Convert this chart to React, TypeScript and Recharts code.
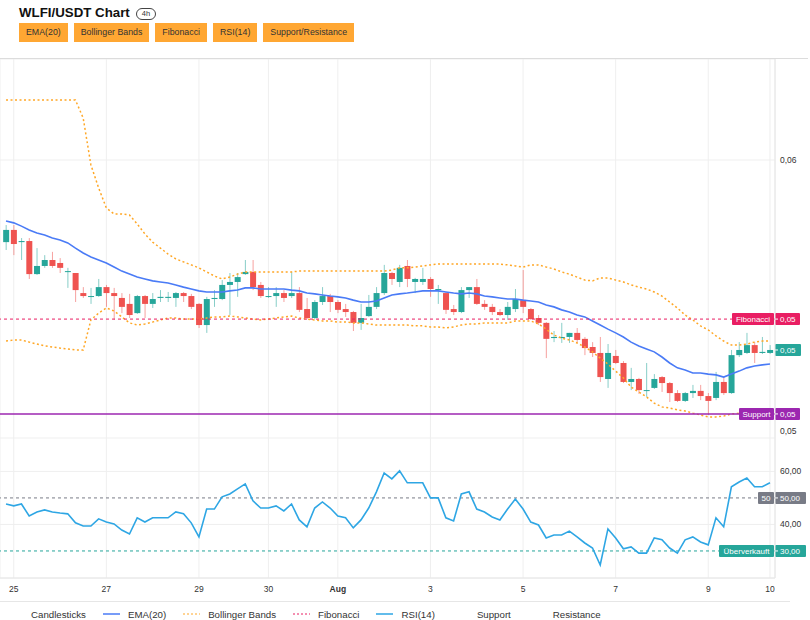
import { ComposedChart, Bar, Line, XAxis, YAxis, CartesianGrid, ReferenceLine } from 'recharts';

// 4h candles (WLFI/USDT)
const opens = [
  0.05697, 0.05742, 0.05697, 0.05701, 0.05579, 0.05609, 0.05631, 0.0562, 0.05587, 0.05583,
  0.05509, 0.05495, 0.05498, 0.05531, 0.05509, 0.05491, 0.05469, 0.05435, 0.05498, 0.05469,
  0.05491, 0.05491, 0.05491, 0.05509, 0.05498, 0.05469, 0.05391, 0.05487, 0.05487, 0.05539,
  0.0555, 0.05579, 0.05587, 0.05539, 0.05495, 0.05498, 0.05509, 0.05498, 0.05509, 0.0545,
  0.05417, 0.05476, 0.05498, 0.05476, 0.0545, 0.05439, 0.05399, 0.05424, 0.05458, 0.05509,
  0.05583, 0.0555, 0.05609, 0.0555, 0.0555, 0.05561, 0.0552, 0.05509, 0.0545, 0.05439,
  0.0552, 0.05531, 0.05469, 0.05458, 0.05439, 0.05428, 0.0545, 0.05483, 0.0545, 0.05417,
  0.05399, 0.05343, 0.05343, 0.05347, 0.05362, 0.0534, 0.0531, 0.05288, 0.05192, 0.05277,
  0.05251, 0.05181, 0.05192, 0.05148, 0.05159, 0.05199, 0.05177, 0.0514, 0.05111, 0.0514,
  0.05148, 0.05129, 0.05122, 0.05181, 0.0514, 0.0528, 0.05288, 0.05317, 0.05288, 0.05288,
];
const highs = [
  0.0576, 0.0576, 0.05712, 0.05712, 0.05675, 0.05649, 0.05661, 0.05638, 0.05602, 0.05583,
  0.05531, 0.05528, 0.05561, 0.05539, 0.05528, 0.05509, 0.05506, 0.05502, 0.05502, 0.05509,
  0.0552, 0.05513, 0.05513, 0.05513, 0.05506, 0.05472, 0.05495, 0.0552, 0.05557, 0.05583,
  0.05583, 0.05631, 0.05631, 0.0555, 0.05531, 0.05531, 0.0552, 0.05587, 0.05531, 0.05491,
  0.05483, 0.05531, 0.05506, 0.05483, 0.05469, 0.05443, 0.05469, 0.05502, 0.05531, 0.05613,
  0.05587, 0.05613, 0.05631, 0.05565, 0.05602, 0.05568, 0.05539, 0.05513, 0.05465, 0.05531,
  0.05531, 0.05561, 0.05483, 0.05469, 0.0545, 0.05476, 0.05524, 0.05594, 0.05454, 0.05428,
  0.05402, 0.05369, 0.05399, 0.05362, 0.0538, 0.05347, 0.05328, 0.05347, 0.05321, 0.05299,
  0.05258, 0.05233, 0.05196, 0.05251, 0.0521, 0.05203, 0.05181, 0.05151, 0.05144, 0.0517,
  0.0517, 0.0514, 0.05218, 0.05199, 0.05299, 0.05328, 0.05362, 0.05328, 0.05347, 0.05317,
];
const lows = [
  0.05668, 0.05649, 0.05631, 0.05561, 0.05576, 0.05602, 0.05602, 0.05583, 0.05528, 0.05476,
  0.05491, 0.05469, 0.05495, 0.05458, 0.0541, 0.05435, 0.05417, 0.05432, 0.05417, 0.05454,
  0.05476, 0.05476, 0.05458, 0.05476, 0.0545, 0.0538, 0.05362, 0.05458, 0.05483, 0.05428,
  0.05495, 0.05576, 0.0552, 0.05491, 0.05491, 0.05458, 0.05476, 0.05491, 0.05439, 0.05413,
  0.05413, 0.05465, 0.05439, 0.05435, 0.05421, 0.05369, 0.05373, 0.05421, 0.0545, 0.05502,
  0.05539, 0.05531, 0.05531, 0.05509, 0.05539, 0.05495, 0.05469, 0.05432, 0.05428, 0.05435,
  0.05491, 0.05465, 0.05447, 0.05428, 0.05424, 0.0541, 0.05439, 0.05435, 0.0541, 0.05391,
  0.05269, 0.05328, 0.05325, 0.05325, 0.05325, 0.0528, 0.05273, 0.05181, 0.05159, 0.05247,
  0.05177, 0.05151, 0.05137, 0.05126, 0.05155, 0.05144, 0.05107, 0.05107, 0.05107, 0.05122,
  0.05114, 0.05059, 0.05114, 0.05133, 0.05137, 0.05273, 0.05284, 0.05251, 0.05284, 0.05284,
];
const closes = [
  0.05742, 0.0569, 0.05701, 0.05579, 0.05609, 0.05631, 0.05609, 0.05602, 0.0559, 0.0552,
  0.05498, 0.05498, 0.05531, 0.05509, 0.05498, 0.05458, 0.05428, 0.05498, 0.05469, 0.05487,
  0.05495, 0.05495, 0.05509, 0.05498, 0.05458, 0.05391, 0.05487, 0.05491, 0.05539, 0.0555,
  0.05568, 0.05587, 0.05531, 0.05498, 0.05498, 0.05509, 0.05491, 0.05509, 0.05447, 0.05417,
  0.05476, 0.05498, 0.05476, 0.05447, 0.05439, 0.05399, 0.05417, 0.05458, 0.05509, 0.05583,
  0.05561, 0.05602, 0.05561, 0.05561, 0.05561, 0.05524, 0.05524, 0.05447, 0.05439, 0.0552,
  0.05531, 0.05469, 0.05458, 0.05439, 0.05428, 0.05458, 0.05487, 0.05458, 0.05413, 0.05399,
  0.0534, 0.05347, 0.05347, 0.05362, 0.05336, 0.05306, 0.05288, 0.05199, 0.05288, 0.05251,
  0.05181, 0.05192, 0.05151, 0.05151, 0.05192, 0.05177, 0.0514, 0.05111, 0.0514, 0.05148,
  0.05129, 0.05111, 0.05181, 0.0514, 0.0528, 0.05299, 0.05317, 0.05288, 0.05292, 0.05299,
];
const ema20 = [
  0.05775, 0.05768, 0.05756, 0.05742, 0.05731, 0.05723, 0.05712, 0.05705, 0.05694, 0.05675,
  0.05657, 0.05642, 0.05631, 0.0562, 0.05605, 0.0559, 0.05579, 0.05568, 0.05561, 0.05554,
  0.0555, 0.05546, 0.05539, 0.05531, 0.05524, 0.05517, 0.05513, 0.05513, 0.05513, 0.05517,
  0.0552, 0.05528, 0.05528, 0.05524, 0.05524, 0.05524, 0.05524, 0.0552, 0.05517, 0.05509,
  0.05506, 0.05502, 0.05498, 0.05495, 0.05491, 0.05483, 0.05476, 0.05476, 0.0548, 0.05491,
  0.05502, 0.05506, 0.05509, 0.05513, 0.05517, 0.05517, 0.05517, 0.05513, 0.05509, 0.05506,
  0.05509, 0.05506, 0.05498, 0.05495, 0.05491, 0.05487, 0.05487, 0.05483, 0.0548, 0.05476,
  0.05465, 0.05458, 0.05447, 0.05439, 0.05428, 0.05421, 0.05406, 0.05391, 0.05376, 0.05362,
  0.05347, 0.05328, 0.05314, 0.05303, 0.05292, 0.05273, 0.05251, 0.05233, 0.05225, 0.05214,
  0.05214, 0.0521, 0.05207, 0.05199, 0.0521, 0.05221, 0.05233, 0.0524, 0.05244, 0.05247,
];
const bbUpper = [
  0.06221, 0.06221, 0.06221, 0.06221, 0.06221, 0.06221, 0.06221, 0.06221, 0.06221, 0.06221,
  0.06155, 0.05982, 0.05897, 0.05823, 0.05801, 0.05801, 0.05797, 0.05764, 0.05727, 0.05697,
  0.05675, 0.05653, 0.05635, 0.05624, 0.05613, 0.05602, 0.05587, 0.05572, 0.05561, 0.05568,
  0.05579, 0.05587, 0.05587, 0.05587, 0.05587, 0.05587, 0.05587, 0.05587, 0.0559, 0.0559,
  0.0559, 0.0559, 0.0559, 0.0559, 0.0559, 0.0559, 0.0559, 0.0559, 0.0559, 0.0559,
  0.05594, 0.05602, 0.05602, 0.05605, 0.05609, 0.05613, 0.05616, 0.05616, 0.05616, 0.05616,
  0.05616, 0.05616, 0.05616, 0.05616, 0.05616, 0.05613, 0.05609, 0.05605, 0.05613, 0.05613,
  0.05605, 0.05598, 0.05587, 0.05579, 0.05568, 0.05557, 0.05554, 0.05565, 0.05565, 0.05557,
  0.0555, 0.05539, 0.05531, 0.05524, 0.05513, 0.05498, 0.05476, 0.05454, 0.05428, 0.0541,
  0.05388, 0.05373, 0.05351, 0.05332, 0.05317, 0.05317, 0.05321, 0.05328, 0.05332, 0.05332,
];
const bbLower = [
  0.05332, 0.05336, 0.05336, 0.05328, 0.05321, 0.05314, 0.0531, 0.05306, 0.05303, 0.05299,
  0.05299, 0.0541, 0.05435, 0.05454, 0.05443, 0.05421, 0.05399, 0.05391, 0.05395, 0.05402,
  0.0541, 0.05417, 0.05417, 0.05413, 0.05413, 0.05413, 0.05417, 0.05421, 0.05421, 0.05424,
  0.05421, 0.05417, 0.05413, 0.0541, 0.05413, 0.05417, 0.05421, 0.05424, 0.05417, 0.05413,
  0.0541, 0.05406, 0.05406, 0.05402, 0.05402, 0.05399, 0.05399, 0.05395, 0.05391, 0.05391,
  0.05391, 0.05391, 0.05391, 0.05388, 0.05388, 0.05384, 0.05384, 0.0538, 0.05384, 0.05391,
  0.05395, 0.05395, 0.05399, 0.05399, 0.05399, 0.05399, 0.05406, 0.05406, 0.05406, 0.05395,
  0.05376, 0.05354, 0.05343, 0.05336, 0.05325, 0.0531, 0.05292, 0.05269, 0.05247, 0.05221,
  0.05196, 0.05162, 0.05144, 0.05126, 0.05103, 0.05089, 0.05085, 0.05078, 0.05074, 0.05066,
  0.05059, 0.05052, 0.05052, 0.05055, 0.05063, 0.05066, 0.0507, 0.05074, 0.05074, 0.05074,
];
const rsi14 = [
  47.7, 47.0, 47.7, 43.2, 44.7, 45.5, 44.7, 44.3, 44.0, 40.6,
  39.4, 39.4, 42.1, 40.9, 40.2, 37.9, 36.4, 42.5, 40.9, 42.5,
  42.5, 42.5, 44.7, 44.0, 40.6, 35.3, 45.8, 45.8, 50.4, 51.5,
  53.4, 55.3, 48.9, 46.2, 46.2, 47.0, 45.1, 47.7, 41.7, 39.1,
  46.2, 48.5, 46.2, 43.2, 42.5, 38.7, 41.7, 46.2, 52.3, 59.4,
  57.2, 60.2, 55.7, 55.7, 55.7, 50.0, 50.0, 42.5, 41.3, 51.5,
  52.3, 45.8, 44.7, 42.8, 41.7, 45.8, 49.6, 45.8, 40.9, 39.8,
  34.9, 36.0, 36.0, 37.5, 35.3, 33.0, 31.1, 24.7, 38.3, 34.9,
  30.8, 31.5, 29.2, 29.2, 34.9, 34.2, 31.1, 29.2, 34.2, 35.3,
  33.4, 32.3, 42.5, 39.1, 54.2, 56.0, 57.5, 54.2, 54.2, 55.7,
];

// time axis: candle index -> day label
const tickIndex = [1, 13, 25, 34, 43, 55, 67, 79, 91, 99];
const tickLabels = ['25', '27', '29', '30', 'Aug', '3', '5', '7', '9', '10'];

const priceTicks = [0.05, 0.06];
const rsiTicks = [40, 60];
const fibLevel = 0.05413;
const supportLevel = 0.05063;
const rsiMid = 50;
const rsiOversold = 30;

const buttons = ['EMA(20)', 'Bollinger Bands', 'Fibonacci', 'RSI(14)', 'Support/Resistance'];
const legendNames = ['Candlesticks', 'EMA(20)', 'Bollinger Bands', 'Fibonacci', 'RSI(14)', 'Support', 'Resistance'];

const UP = '#26a69a';
const DOWN = '#ef5350';
const EMA_C = '#4a7bf6';
const BB_C = '#ffa726';
const FIB_C = '#e91e63';
const SUP_C = '#9c27b0';
const RSI_C = '#2ea6e4';
const MID_C = '#787b86';
const FONT = "'Liberation Sans', Arial, sans-serif";

const legendStyle: Record<string, { color: string; dash?: string }> = {
  'EMA(20)': { color: EMA_C },
  'Bollinger Bands': { color: BB_C, dash: '2 2' },
  Fibonacci: { color: FIB_C, dash: '2 2' },
  'RSI(14)': { color: RSI_C },
};

const data = closes.map((close, i) => ({
  i,
  open: opens[i],
  high: highs[i],
  low: lows[i],
  close,
  range: [lows[i], highs[i]],
  ema: ema20[i],
  upper: bbUpper[i],
  lower: bbLower[i],
  rsi: rsi14[i],
}));

const X_DOMAIN: [number, number] = [-0.78, 99.65];
const fmt = (v: number, d: number) => v.toFixed(d).replace('.', ',');

function Candle(props: any) {
  const { x, y, width, height, payload } = props;
  if (x == null || y == null || !payload) return null;
  const top = Math.min(y, y + height);
  const h = Math.abs(height);
  const { open, close, high, low } = payload;
  const span = high - low;
  const py = (v: number) => (span > 0 ? top + ((high - v) / span) * h : top);
  const color = close >= open ? UP : DOWN;
  const cx = x + width / 2;
  const bTop = py(Math.max(open, close));
  const bBot = py(Math.min(open, close));
  return (
    <g>
      <line x1={cx} x2={cx} y1={top} y2={top + h} stroke={color} strokeOpacity={0.55} strokeWidth={1} />
      <rect x={x} y={bTop} width={width} height={Math.max(1, bBot - bTop)} fill={color} />
    </g>
  );
}

function XTick(props: any) {
  const { x, y, payload } = props;
  const label = tickLabels[tickIndex.indexOf(payload.value)];
  return (
    <text x={x} y={y} dy="0.71em" textAnchor="middle" fontSize={8.5} fill="#333" fontFamily={FONT}
      fontWeight={label === 'Aug' ? 700 : 400}>
      {label}
    </text>
  );
}

function AxisTag({ viewBox, name, nameWidth, value, valueWidth, color }: any) {
  if (!viewBox) return null;
  const right = viewBox.x + viewBox.width;
  const cy = viewBox.y;
  return (
    <g fontFamily={FONT} fontSize={8}>
      {name && (
        <g>
          <rect x={right - nameWidth - 1} y={cy - 6} width={nameWidth} height={12} fill={color} rx={1} />
          <text x={right - 1 - nameWidth / 2} y={cy} dy="0.35em" textAnchor="middle" fill="#fff">{name}</text>
        </g>
      )}
      <rect x={right} y={cy - 6} width={valueWidth} height={12} fill={color} rx={1} />
      <line x1={right} x2={right + 3} y1={cy} y2={cy} stroke="#fff" />
      <text x={right + 5} y={cy} dy="0.35em" fill="#fff">{value}</text>
    </g>
  );
}

const axisTick = { fontSize: 8.5, fill: '#333', fontFamily: FONT };

export default function App() {
  return (
    <div style={{ position: 'absolute', left: 0, top: 0, width: 810, height: 620, background: '#fff', fontFamily: FONT, overflow: 'hidden', color: '#333' }}>
      <div style={{ position: 'absolute', left: 19, top: 5, fontSize: 13.3, fontWeight: 700, color: '#111' }}>WLFI/USDT Chart</div>
      <div style={{ position: 'absolute', left: 136, top: 8, width: 20, height: 12, boxSizing: 'border-box', border: '1px solid #444', borderRadius: 7, fontSize: 7.5, lineHeight: '10px', textAlign: 'center' }}>4h</div>
      <div style={{ position: 'absolute', left: 19, top: 23, display: 'flex', gap: 6 }}>
        {buttons.map((b) => (
          <div key={b} style={{ height: 19, lineHeight: '19px', padding: '0 7px', background: '#ffa733', fontSize: 8.8, color: '#333' }}>{b}</div>
        ))}
      </div>

      <div style={{ position: 'absolute', left: 0, top: 58, width: 808, height: 1, background: '#dcdcdc' }} />

      <div style={{ position: 'absolute', left: 0, top: 59 }}>
        <ComposedChart width={810} height={379} data={data} margin={{ top: 0, right: 0, bottom: 0, left: 0 }} barGap={0}>
          <CartesianGrid stroke="#efefef" />
          <XAxis dataKey="i" type="number" domain={X_DOMAIN} ticks={tickIndex} interval={0} allowDataOverflow hide />
          <YAxis orientation="right" width={35} domain={[0.049742, 0.063727]} ticks={priceTicks} allowDataOverflow
            tickFormatter={(v) => fmt(v, 2)} tick={axisTick} tickLine={false} tickSize={0} tickMargin={5}
            axisLine={{ stroke: '#e6e6e6' }} />
          <Bar dataKey="range" barSize={6} isAnimationActive={false} shape={(p: any) => <Candle {...p} />} />
          <Line dataKey="upper" stroke={BB_C} strokeWidth={1.5} strokeDasharray="2 2.5" dot={false} isAnimationActive={false} />
          <Line dataKey="lower" stroke={BB_C} strokeWidth={1.5} strokeDasharray="2 2.5" dot={false} isAnimationActive={false} />
          <Line dataKey="ema" stroke={EMA_C} strokeWidth={1.6} dot={false} isAnimationActive={false} />
          <ReferenceLine y={fibLevel} stroke={FIB_C} strokeDasharray="3 3"
            label={(p: any) => <AxisTag viewBox={p.viewBox} name="Fibonacci" nameWidth={42} value={fmt(fibLevel, 2)} valueWidth={25} color={FIB_C} />} />
          <ReferenceLine y={supportLevel} stroke={SUP_C} strokeWidth={1.5}
            label={(p: any) => <AxisTag viewBox={p.viewBox} name="Support" nameWidth={35} value={fmt(supportLevel, 2)} valueWidth={25} color={SUP_C} />} />
          <ReferenceLine y={closes[closes.length - 1]} stroke="none"
            label={(p: any) => <AxisTag viewBox={p.viewBox} value={fmt(closes[closes.length - 1], 2)} valueWidth={26} color={UP} />} />
        </ComposedChart>
      </div>

      <div style={{ position: 'absolute', left: 0, top: 438 }}>
        <ComposedChart width={810} height={164} data={data} margin={{ top: 0, right: 0, bottom: 0, left: 0 }}>
          <CartesianGrid stroke="#efefef" />
          <XAxis dataKey="i" type="number" domain={X_DOMAIN} ticks={tickIndex} interval={0} allowDataOverflow height={24}
            tickLine={false} tickSize={0} tickMargin={8} axisLine={{ stroke: '#e6e6e6' }} tick={(p: any) => <XTick {...p} />} />
          <YAxis orientation="right" width={35} domain={[19.8, 72.6]} ticks={rsiTicks} allowDataOverflow
            tickFormatter={(v) => fmt(v, 2)} tick={axisTick} tickLine={false} tickSize={0} tickMargin={5}
            axisLine={{ stroke: '#e6e6e6' }} />
          <ReferenceLine y={rsiMid} stroke={MID_C} strokeDasharray="3 3"
            label={(p: any) => <AxisTag viewBox={p.viewBox} name="50" nameWidth={16} value={fmt(rsiMid, 2)} valueWidth={31} color={MID_C} />} />
          <ReferenceLine y={rsiOversold} stroke={UP} strokeDasharray="3 3"
            label={(p: any) => <AxisTag viewBox={p.viewBox} name="Überverkauft" nameWidth={55} value={fmt(rsiOversold, 2)} valueWidth={31} color={UP} />} />
          <Line dataKey="rsi" stroke={RSI_C} strokeWidth={1.6} dot={false} isAnimationActive={false} />
        </ComposedChart>
      </div>

      <div style={{ position: 'absolute', left: 0, top: 601, width: 790, height: 1, background: '#e6e6e6' }} />

      <div style={{ position: 'absolute', left: 6, top: 607, height: 14, display: 'flex', alignItems: 'center', gap: 17, fontSize: 9.7, color: '#333' }}>
        {legendNames.map((n) => {
          const st = legendStyle[n];
          return (
            <div key={n} style={{ display: 'flex', alignItems: 'center' }}>
              <svg width={17} height={4} style={{ marginRight: 8 }}>
                {st && <line x1={0} x2={17} y1={2} y2={2} stroke={st.color} strokeWidth={st.dash ? 1 : 1.5} strokeDasharray={st.dash} />}
              </svg>
              <span>{n}</span>
            </div>
          );
        })}
      </div>
    </div>
  );
}
